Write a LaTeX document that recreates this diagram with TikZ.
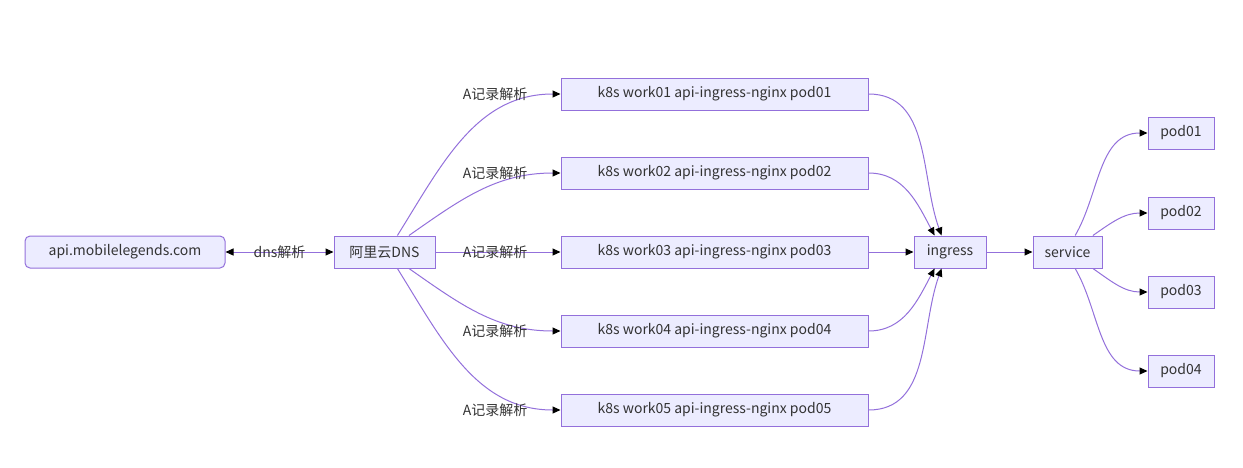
\documentclass[tikz,border=0pt]{standalone}
\usepackage{fontspec}
\setmainfont{Noto Sans CJK SC}
\usepackage{tikz}
\usetikzlibrary{arrows.meta, positioning, calc}
\definecolor{boxfill}{HTML}{ECECFF}
\definecolor{boxline}{HTML}{9370DB}
\definecolor{txt}{HTML}{333333}
\tikzset{
    box/.style={
        rectangle,
        draw=boxline,
        line width=1pt,
        minimum height=32pt,
        fill=boxfill,
        text=txt,
        font=\fontsize{14}{16}\selectfont
    },
    worker/.style={
        box,
        minimum width=307pt
    },
    pod/.style={
        box,
        minimum width=66pt
    },
    elabel/.style={
        text=txt,
        inner sep=0pt,
        font=\fontsize{14}{16}\selectfont
    },
    link/.style={
        draw=boxline,
        line width=1pt,
        >={Triangle[length=8pt,width=7pt,color=black]}
    }
}

\begin{document}
\begin{tikzpicture}[x=1pt, y=1pt, node distance=46pt]

\useasboundingbox (0,0) rectangle (1243,-467);

% Entry
\node[box, rounded corners=5pt, minimum width=200pt] (api) at (125,-252) {api.mobilelegends.com};
\node[box, minimum width=101pt, right=108pt of api] (dns) {阿里云DNS};

\draw[link, <->] (api) -- (dns);
\node[elabel] (l0) at ($(api.east)!0.5!(dns.west)$) {dns解析};

% Ingress workers
\node[worker, right=125pt of dns] (w3) {k8s work03 api-ingress-nginx pod03};
\node[worker, above=of w3] (w2) {k8s work02 api-ingress-nginx pod02};
\node[worker, above=of w2] (w1) {k8s work01 api-ingress-nginx pod01};
\node[worker, below=of w3] (w4) {k8s work04 api-ingress-nginx pod04};
\node[worker, below=of w4] (w5) {k8s work05 api-ingress-nginx pod05};

\draw[link, ->] (dns.52) to[out=58, in=180] (w1.west);
\draw[link, ->] (dns.34) to[out=35, in=180] (w2.west);
\draw[link, ->] (dns) -- (w3);
\draw[link, ->] (dns.-34) to[out=-35, in=180] (w4.west);
\draw[link, ->] (dns.-52) to[out=-58, in=180] (w5.west);

\node[elabel, left=33pt of w1] (l1) {A记录解析};
\node[elabel, left=33pt of w2] (l2) {A记录解析};
\node[elabel, left=33pt of w3] (l3) {A记录解析};
\node[elabel, left=33pt of w4] (l4) {A记录解析};
\node[elabel, left=33pt of w5] (l5) {A记录解析};

% Ingress and service
\node[box, minimum width=72pt, right=45pt of w3] (ingress) {ingress};
\node[box, minimum width=69pt, right=of ingress] (service) {service};

\draw[link, ->] (w1.east) to[out=0, in=110] (ingress.117);
\draw[link, ->] (w2.east) to[out=0, in=118] (ingress.133);
\draw[link, ->] (w3) -- (ingress);
\draw[link, ->] (w4.east) to[out=0, in=-118] (ingress.-133);
\draw[link, ->] (w5.east) to[out=0, in=-110] (ingress.-117);
\draw[link, ->] (ingress) -- (service);

% Pods
\node[pod, right=45pt of service, yshift=119pt] (p1) {pod01};
\node[pod, right=45pt of service, yshift=39pt] (p2) {pod02};
\node[pod, right=45pt of service, yshift=-40pt] (p3) {pod03};
\node[pod, right=45pt of service, yshift=-119pt] (p4) {pod04};

\draw[link, ->] (service.65) to[out=60, in=180] (p1.west);
\draw[link, ->] (service.33) to[out=35, in=180] (p2.west);
\draw[link, ->] (service.-33) to[out=-35, in=180] (p3.west);
\draw[link, ->] (service.-65) to[out=-60, in=180] (p4.west);

\end{tikzpicture}
\end{document}
